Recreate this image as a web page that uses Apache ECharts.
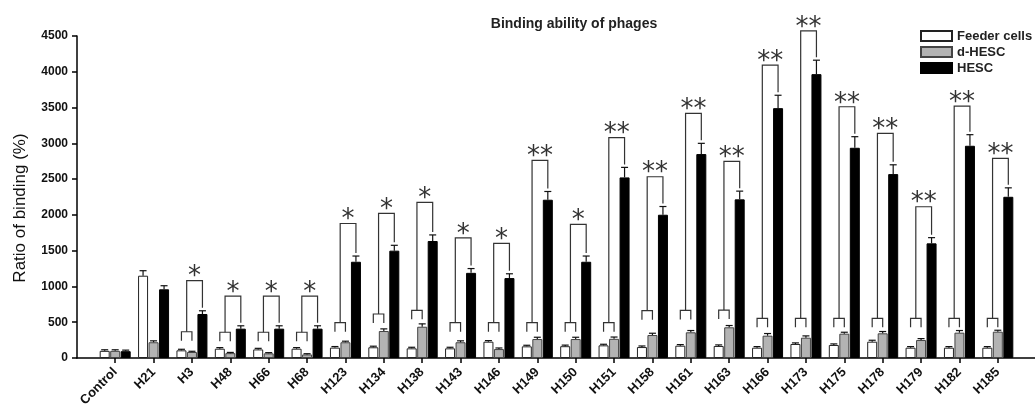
<!DOCTYPE html>
<html>
<head>
<meta charset="utf-8">
<script src="https://cdn.jsdelivr.net/npm/echarts@6/dist/echarts.min.js"></script>
<style>
html,body{margin:0;padding:0;background:#fff;}
#c{width:1035px;height:411px;}
</style>
</head>
<body>
<div id="c"></div>
<script>
const categories = ['Control','H21','H3','H48','H66','H68','H123','H134','H138','H143','H146','H149','H150','H151','H158','H161','H163','H166','H173','H175','H178','H179','H182','H185'];
const feeder    = [100, 1150, 107, 130, 120, 130, 145, 150, 135, 135, 228, 163, 165, 177, 153, 172, 168, 144, 196, 182, 228, 144, 144, 144];
const feederErr = [15, 70, 15, 15, 15, 15, 15, 15, 15, 15, 15, 15, 15, 15, 15, 15, 15, 15, 15, 15, 20, 15, 15, 15];
const dhesc     = [100, 220, 84, 68, 65, 50, 220, 377, 437, 220, 125, 265, 265, 268, 321, 359, 429, 312, 284, 340, 345, 251, 354, 368];
const dhescErr  = [15, 20, 10, 10, 10, 10, 15, 30, 40, 20, 15, 25, 25, 25, 25, 25, 25, 30, 25, 20, 25, 20, 30, 20];
const hesc      = [95, 960, 615, 410, 410, 410, 1345, 1500, 1635, 1190, 1117, 2212, 1345, 2524, 2002, 2850, 2217, 3492, 3967, 2938, 2570, 1602, 2966, 2253];
const hescErr   = [15, 50, 45, 40, 40, 40, 80, 75, 85, 60, 60, 115, 80, 140, 115, 150, 115, 180, 195, 155, 130, 80, 155, 125];
const smallTop  = [null, null, 367, 360, 360, 360, 493, 615, 666, 493, 493, 493, 493, 493, 661, 665, 670, 554, 554, 554, 554, 554, 554, 554];
const bigTop    = [null, null, 1080, 866, 866, 866, 1880, 2021, 2175, 1680, 1602, 2762, 1868, 3080, 2533, 3418, 2748, 4093, 4572, 3511, 3139, 2114, 3520, 2790];
const stars     = ['', '', '*', '*', '*', '*', '*', '*', '*', '*', '*', '**', '*', '**', '**', '**', '**', '**', '**', '**', '**', '**', '**', '**'];
const yTicks = {min: 0, max: 4500, interval: 500};

const FONT = '"Liberation Sans", Arial, sans-serif';
const OFF = 10.5; // bar center offset in px (barWidth 10, gap 0.5)

function errSeries(vals, errs, off, name) {
  return {
    type: 'custom', name: name, xAxisIndex: 0, yAxisIndex: 0, z: 5, silent: true,
    encode: {x: 0, y: 1},
    data: vals.map((v, i) => [i, v, errs[i]]),
    renderItem: function (params, api) {
      const i = api.value(0), v = api.value(1), e = api.value(2);
      const p0 = api.coord([i, v]);
      const p1 = api.coord([i, v + e]);
      const x = p0[0] + off;
      const st = {stroke: '#111', lineWidth: 1.2};
      return {type: 'group', children: [
        {type: 'line', shape: {x1: x, y1: p0[1], x2: x, y2: p1[1]}, style: st},
        {type: 'line', shape: {x1: x - 3.5, y1: p1[1], x2: x + 3.5, y2: p1[1]}, style: st}
      ]};
    }
  };
}

const bracketData = [];
categories.forEach((c, i) => { if (bigTop[i] != null) bracketData.push([i, bigTop[i]]); });

const chart = echarts.init(document.getElementById('c'));
chart.setOption({
  animation: false,
  backgroundColor: '#fff',
  textStyle: {fontFamily: FONT},
  title: {
    text: 'Binding ability of phages', left: 569, top: 12, textAlign: 'center',
    textStyle: {fontFamily: FONT, fontSize: 14, fontWeight: 'bold', color: '#222'}
  },
  legend: {
    data: ['Feeder cells', 'd-HESC', 'HESC'], orient: 'vertical', left: 920, top: 29, padding: 0,
    itemWidth: 31, itemHeight: 10, itemGap: 2, icon: 'rect',
    textStyle: {fontFamily: FONT, fontSize: 13, lineHeight: 14, fontWeight: 'bold', color: '#222'}
  },
  grid: [
    {left: 96, right: 18, top: 36, bottom: 53},
    {left: 77, right: 0, top: 36, bottom: 53}
  ],
  xAxis: [
    {
      type: 'category', gridIndex: 0, data: categories,
      axisLine: {show: false},
      axisTick: {show: true, alignWithLabel: true, length: 5, lineStyle: {color: '#000', width: 1.5}},
      axisLabel: {interval: 0, rotate: 45, margin: 12, fontFamily: FONT, fontSize: 13, fontWeight: 'bold', color: '#111'},
      splitLine: {show: false}
    },
    {
      type: 'value', gridIndex: 1, min: 0, max: 1,
      axisLine: {show: true, lineStyle: {color: '#000', width: 1.5}},
      axisTick: {show: false}, axisLabel: {show: false}, splitLine: {show: false}
    }
  ],
  yAxis: [
    {type: 'value', gridIndex: 0, min: yTicks.min, max: yTicks.max, interval: yTicks.interval, show: false},
    {
      type: 'value', gridIndex: 1, min: yTicks.min, max: yTicks.max, interval: yTicks.interval,
      name: 'Ratio of binding (%)', nameLocation: 'middle', nameGap: 48,
      nameTextStyle: {fontFamily: FONT, fontSize: 17, color: '#111', padding: [0, 22, 0, 0]},
      axisLine: {show: true, lineStyle: {color: '#000', width: 1.5}},
      axisTick: {show: true, length: 5, lineStyle: {color: '#000', width: 1.5}},
      axisLabel: {margin: 9, fontFamily: FONT, fontSize: 12, fontWeight: 'bold', color: '#111',
                  formatter: function (v) { return String(v); }},
      splitLine: {show: false}
    }
  ],
  series: [
    {name: 'Feeder cells', type: 'bar', xAxisIndex: 0, yAxisIndex: 0, barWidth: 10, barGap: '5%', data: feeder,
     itemStyle: {color: '#ffffff', borderColor: '#222', borderWidth: 1}},
    {name: 'd-HESC', type: 'bar', xAxisIndex: 0, yAxisIndex: 0, barWidth: 10, barGap: '5%', data: dhesc,
     itemStyle: {color: '#b3b3b3', borderColor: '#444', borderWidth: 1}},
    {name: 'HESC', type: 'bar', xAxisIndex: 0, yAxisIndex: 0, barWidth: 10, barGap: '5%', data: hesc,
     itemStyle: {color: '#000000', borderColor: '#000', borderWidth: 1}},
    errSeries(feeder, feederErr, -OFF, 'e1'),
    errSeries(dhesc, dhescErr, 0, 'e2'),
    errSeries(hesc, hescErr, OFF, 'e3'),
    {
      type: 'custom', name: 'brackets', xAxisIndex: 0, yAxisIndex: 0, z: 6, silent: true, clip: false,
      encode: {x: 0, y: 1},
      data: bracketData,
      renderItem: function (params, api) {
        const i = api.value(0);
        const cx = api.coord([i, 0])[0];
        const xw = cx - OFF, xg = cx, xb = cx + OFF;
        const xm = (xw + xg) / 2;
        const ys = api.coord([i, smallTop[i]])[1];
        const yb = api.coord([i, bigTop[i]])[1];
        const yk = api.coord([i, hesc[i] + hescErr[i]])[1] - 3;
        const st = {stroke: '#333', lineWidth: 1.2, fill: null};
        return {type: 'group', children: [
          {type: 'polyline', shape: {points: [[xw, ys + 9], [xw, ys], [xg, ys], [xg, ys + 9]]}, style: st},
          {type: 'polyline', shape: {points: [[xm, ys], [xm, yb], [xb, yb], [xb, yk]]}, style: st},
          {type: 'text', x: (xm + xb) / 2, y: yb + 10,
           style: {text: stars[i], fill: '#333', font: '26px "DejaVu Sans"', align: 'center', verticalAlign: 'bottom'}}
        ]};
      }
    }
  ]
});
</script>
</body>
</html>
